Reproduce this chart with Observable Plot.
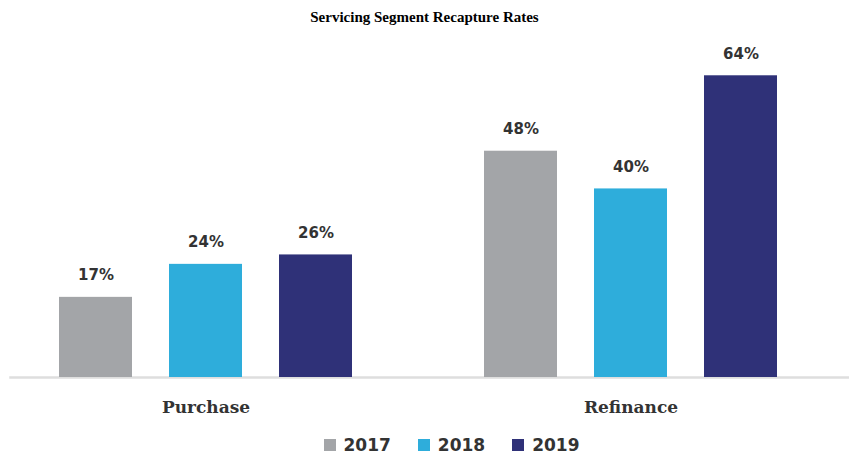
<!DOCTYPE html>
<html>
<head>
<meta charset="utf-8">
<script src="https://cdn.jsdelivr.net/npm/d3@7"></script>
<script src="https://cdn.jsdelivr.net/npm/@observablehq/plot@0.6"></script>
<style>
  html, body { margin: 0; padding: 0; background: #fff; }
  #title { height: 34px; line-height: 34px; text-align: center; font-family: "Liberation Serif", "Times New Roman", serif; font-weight: bold; font-size: 15px; color: #000; }
  #chart svg { display: block; }
  #legend { display: flex; justify-content: center; padding-left: 54px; margin-top: 11px; }
  #legend > * { margin: 0 !important; min-height: 0 !important; line-height: 16px; }
  .leg-swatch { margin-right: 27px !important; }
  .leg-swatch:last-child { margin-right: 0 !important; }
  .leg-swatch svg { margin-right: 8px !important; }
</style>
</head>
<body>
<div id="title">Servicing Segment Recapture Rates</div>
<div id="chart"></div>
<div id="legend"></div>
<script>
const categories = ["Purchase", "Refinance"];
const years = ["2017", "2018", "2019"];
const purchaseValues = [17, 24, 26];
const refinanceValues = [48, 40, 64];
const colors = ["#a3a5a8", "#2eaddb", "#2f3178"];

const data = [];
categories.forEach((c, i) => {
  const vals = i === 0 ? purchaseValues : refinanceValues;
  years.forEach((y, j) => data.push({category: c, year: y, value: vals[j]}));
});

const chart = Plot.plot({
  width: 849,
  height: 392,
  marginTop: 13,
  marginBottom: 49,
  marginLeft: 10,
  marginRight: 0,
  style: {background: "#fff"},
  fx: {domain: categories, paddingInner: 0.307, paddingOuter: 0.14, align: 0.4, axis: null},
  x: {domain: years, paddingInner: 0.335, paddingOuter: 0, axis: null},
  y: {domain: [0, 70], axis: null},
  color: {domain: years, range: colors},
  marks: [
    Plot.frame({facet: "super", anchor: "bottom", stroke: "#dedede", strokeWidth: 2.5, insetLeft: -48, insetRight: -73}),
    Plot.barY(data, {fx: "category", x: "year", y: "value", fill: "year"}),
    Plot.text(data, {fx: "category", x: "year", y: "value", text: d => d.value + "%", dy: -22,
      fontSize: 15, fontWeight: "bold", fill: "#333", fontFamily: "DejaVu Sans"}),
    Plot.axisFx({anchor: "bottom", tickSize: 0, tickPadding: 23, label: null,
      fontSize: 17, fontWeight: "bold", fontFamily: "DejaVu Serif", fill: "#333"})
  ]
});
document.getElementById("chart").appendChild(chart);

const legend = Plot.legend({
  color: {type: "ordinal", domain: years, range: colors},
  legend: "swatches",
  swatchSize: 12,
  className: "leg",
  style: {fontSize: "17px", fontWeight: "bold", fontFamily: "DejaVu Sans", color: "#333"}
});
document.getElementById("legend").appendChild(legend);
</script>
</body>
</html>
